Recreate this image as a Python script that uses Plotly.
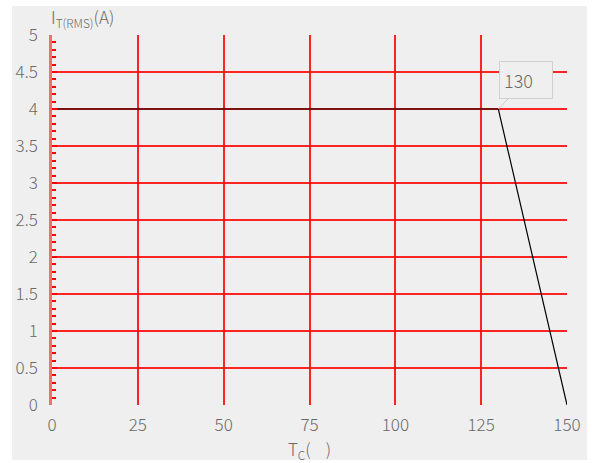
import plotly.graph_objects as go

tc = [0, 130, 150]
it = [4, 4, 0]
x_ticks = [0, 25, 50, 75, 100, 125, 150]
y_ticks = [0, 0.5, 1, 1.5, 2, 2.5, 3, 3.5, 4, 4.5, 5]
y_labels = ["0", "0.5", "1", "1.5", "2", "2.5", "3", "3.5", "4", "4.5", "5"]
callout_x = 130
callout_y = 4
callout_text = "130"

font = "Noto Sans CJK SC"
grey = "#6a6a6a"
grid = "rgba(255,0,0,0.85)"

fig = go.Figure()
fig.add_trace(go.Scatter(x=tc, y=it, mode="lines",
                         line=dict(color="black", width=1.2),
                         hoverinfo="skip", showlegend=False))

fig.update_layout(
    width=592, height=463,
    margin=dict(l=52, r=25, t=35, b=58, autoexpand=False),
    paper_bgcolor="white",
    plot_bgcolor="#efefef",
    font=dict(family=font, color=grey, size=17, weight=300),
    shapes=[dict(type="rect", xref="paper", yref="paper",
                 x0=-0.0777, x1=1.0388, y0=-0.1486, y1=1.0784,
                 fillcolor="#efefef", line=dict(width=0), layer="below")],
    annotations=[
        dict(x=callout_x, y=callout_y, xref="x", yref="y", text=callout_text,
             showarrow=True, arrowhead=0, arrowwidth=1, arrowcolor="#cccccc",
             ax=28, ay=-29, bgcolor="#efefef", bordercolor="#d0d0d0",
             borderwidth=1, borderpad=4, standoff=0,
             width=44, height=28, align="left",
             font=dict(family=font, size=18, color=grey, weight=300)),
        dict(x=0, y=1, xref="paper", yref="paper", xanchor="left", yanchor="bottom",
             text="I<sub>T(RMS)</sub>(A)", showarrow=False, yshift=2, xshift=-3,
             font=dict(family=font, size=17, color=grey, weight=300)),
    ],
)

fig.update_xaxes(range=[0, 150], tickvals=x_ticks, showgrid=True,
                 gridcolor=grid, gridwidth=1.5, zeroline=False,
                 showline=False, ticks="", ticklabelstandoff=8,
                 tickfont=dict(size=17, color=grey), automargin=False,
                 title=dict(text="T<sub>C</sub>(    )", standoff=2,
                            font=dict(size=17, color=grey)),
                 fixedrange=True)
fig.update_yaxes(range=[0, 5], tickvals=y_ticks, ticktext=y_labels,
                 showgrid=True, gridcolor=grid, gridwidth=1.5, zeroline=False,
                 showline=True, linecolor="#f07070", linewidth=2.5,
                 ticks="inside", ticklen=5, tickcolor="#ff0000", tickwidth=1.5,
                 ticklabelstandoff=8, automargin=False,
                 minor=dict(dtick=0.1, ticks="inside", ticklen=4, tickwidth=1.5,
                            tickcolor="#ff0000", showgrid=False),
                 tickfont=dict(size=17, color=grey), fixedrange=True)

fig.write_html("out.html", config={"displayModeBar": False},
               post_script="document.body.style.margin='0';document.body.style.padding='0';")
